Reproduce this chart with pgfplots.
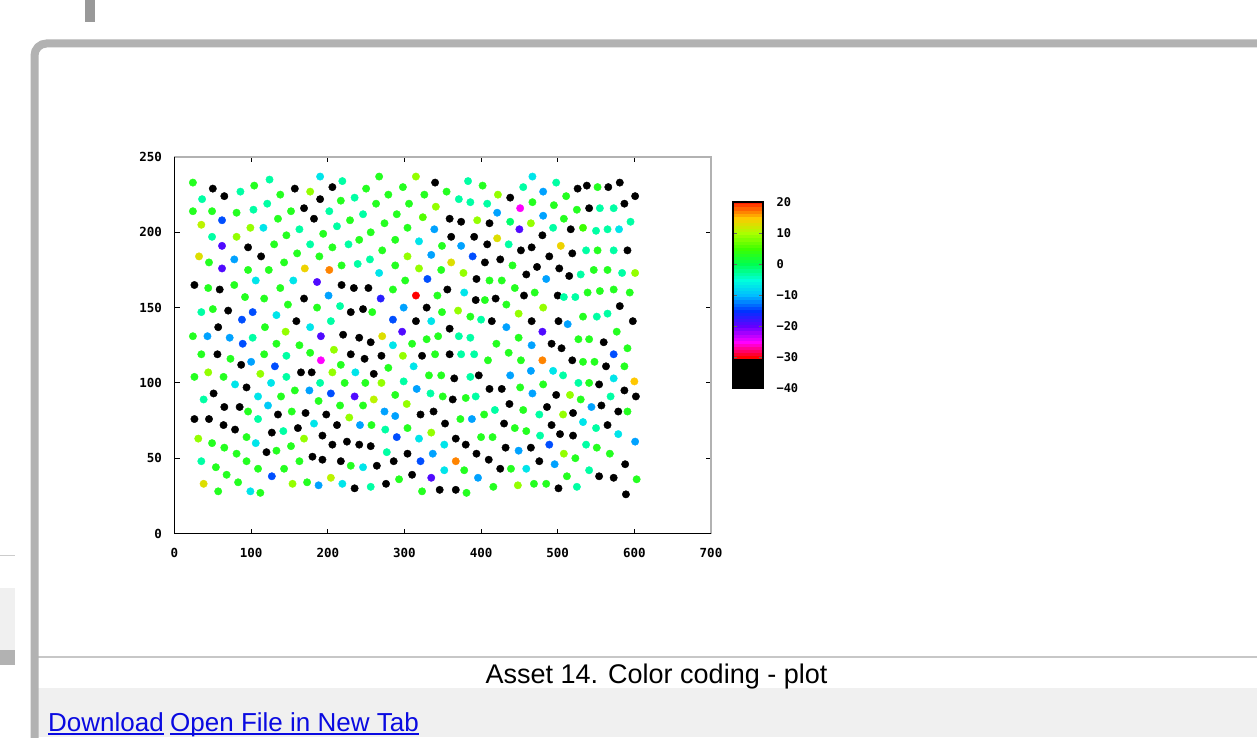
\documentclass[border=0pt]{standalone}
\usepackage{pgfplots}
\pgfplotsset{compat=1.18}
\usepackage{pgfplotstable}
\usepackage{fontspec}
\setmainfont{Liberation Sans}
\newfontfamily\tickfont{DejaVu Sans Mono}
\definecolor{framegray}{RGB}{178,178,178}
\definecolor{linkblue}{RGB}{10,10,225}
\pgfplotsset{colormap={gp}{rgb255(0pt)=(0,0,0) rgb255(19pt)=(0,0,0) rgb255(20pt)=(255,0,0) rgb255(30pt)=(255,0,255) rgb255(40pt)=(100,0,255) rgb255(50pt)=(0,50,255) rgb255(60pt)=(0,190,255) rgb255(70pt)=(0,255,220) rgb255(80pt)=(0,255,80) rgb255(90pt)=(60,255,0) rgb255(100pt)=(170,255,0) rgb255(110pt)=(255,200,0) rgb255(120pt)=(255,30,0)}}
\pgfplotstableread[row sep=\\]{x y c\\
0 -40 -40\\ 1 -40 -40\\ 0 -39 -39\\ 1 -39 -39\\ 0 -38 -38\\ 1 -38 -38\\ 0 -37 -37\\ 1 -37 -37\\ 0 -36 -36\\ 1 -36 -36\\
0 -35 -35\\ 1 -35 -35\\ 0 -34 -34\\ 1 -34 -34\\ 0 -33 -33\\ 1 -33 -33\\ 0 -32 -32\\ 1 -32 -32\\ 0 -31 -31\\ 1 -31 -31\\
0 -30 -30\\ 1 -30 -30\\ 0 -29 -29\\ 1 -29 -29\\ 0 -28 -28\\ 1 -28 -28\\ 0 -27 -27\\ 1 -27 -27\\ 0 -26 -26\\ 1 -26 -26\\
0 -25 -25\\ 1 -25 -25\\ 0 -24 -24\\ 1 -24 -24\\ 0 -23 -23\\ 1 -23 -23\\ 0 -22 -22\\ 1 -22 -22\\ 0 -21 -21\\ 1 -21 -21\\
0 -20 -20\\ 1 -20 -20\\ 0 -19 -19\\ 1 -19 -19\\ 0 -18 -18\\ 1 -18 -18\\ 0 -17 -17\\ 1 -17 -17\\ 0 -16 -16\\ 1 -16 -16\\
0 -15 -15\\ 1 -15 -15\\ 0 -14 -14\\ 1 -14 -14\\ 0 -13 -13\\ 1 -13 -13\\ 0 -12 -12\\ 1 -12 -12\\ 0 -11 -11\\ 1 -11 -11\\
0 -10 -10\\ 1 -10 -10\\ 0 -9 -9\\ 1 -9 -9\\ 0 -8 -8\\ 1 -8 -8\\ 0 -7 -7\\ 1 -7 -7\\ 0 -6 -6\\ 1 -6 -6\\
0 -5 -5\\ 1 -5 -5\\ 0 -4 -4\\ 1 -4 -4\\ 0 -3 -3\\ 1 -3 -3\\ 0 -2 -2\\ 1 -2 -2\\ 0 -1 -1\\ 1 -1 -1\\
0 0 0\\ 1 0 0\\ 0 1 1\\ 1 1 1\\ 0 2 2\\ 1 2 2\\ 0 3 3\\ 1 3 3\\ 0 4 4\\ 1 4 4\\
0 5 5\\ 1 5 5\\ 0 6 6\\ 1 6 6\\ 0 7 7\\ 1 7 7\\ 0 8 8\\ 1 8 8\\ 0 9 9\\ 1 9 9\\
0 10 10\\ 1 10 10\\ 0 11 11\\ 1 11 11\\ 0 12 12\\ 1 12 12\\ 0 13 13\\ 1 13 13\\ 0 14 14\\ 1 14 14\\
0 15 15\\ 1 15 15\\ 0 16 16\\ 1 16 16\\ 0 17 17\\ 1 17 17\\ 0 18 18\\ 1 18 18\\ 0 19 19\\ 1 19 19\\
0 20 20\\ 1 20 20\\
}\cbtable
\pgfplotstableread{
x y c
24 233 3
50 229 -35
65 224 -35
36 222 -3
86 227 -3
104 231 3
124 235 -3
138 225 3
157 229 -35
177 227 9
190 237 -7
206 230 -35
219 234 -3
190 222 -35
217 221 3
24 214 3
49 214 3
81 213 3
103 215 -3
121 219 -3
152 214 3
169 216 -35
182 209 -35
202 214 -3
62 208 -14
35 205 11
99 203 9
116 203 -7
135 209 3
163 202 -3
146 198 3
194 199 3
212 204 -3
49 197 -3
81 197 9
62 191 -19
96 190 -35
113 184 -35
130 192 3
160 186 3
177 192 -3
206 190 3
32 184 13
45 180 3
78 182 -11
62 176 -19
96 175 3
123 175 3
143 180 3
170 176 14
202 175 17
189 184 3
218 178 3
267 237 3
315 237 9
340 233 -35
383 234 -3
402 231 3
250 229 3
235 223 -3
279 225 3
298 230 3
326 225 3
355 227 3
371 222 -3
386 220 -3
408 219 -3
263 219 3
306 219 3
341 217 9
246 212 -3
229 208 3
274 206 3
290 212 3
324 210 6
359 209 -35
374 207 -35
395 208 9
411 206 -35
339 202 -11
304 203 3
256 200 3
241 195 3
227 192 -3
288 195 3
319 194 -7
349 191 3
361 197 -35
374 191 -11
391 197 -35
408 192 -35
271 188 3
304 184 9
335 185 -11
361 180 13
389 184 -14
405 180 -35
255 182 -3
239 179 -3
288 178 3
319 176 9
348 175 3
377 173 9
267 173 -7
467 237 -7
498 233 -3
455 230 -3
481 227 -11
511 224 3
526 229 -35
538 231 -35
552 230 3
566 230 -35
581 233 -35
601 224 -35
422 225 9
438 223 -35
467 220 3
451 216 -25
421 213 -11
481 211 -11
495 218 3
525 215 3
541 216 -35
555 216 -3
573 216 -3
587 219 -35
438 207 -1
465 206 9
450 202 -19
508 209 3
494 203 -3
517 202 -35
533 203 5
550 201 -3
565 202 -3
580 202 -7
595 207 -3
480 198 -35
421 196 13
436 192 -3
452 188 -35
466 190 -35
504 191 14
489 184 -35
519 186 -35
537 188 -3
552 188 3
573 188 -3
591 188 -35
425 182 -35
441 178 3
473 177 -35
459 172 -35
502 176 -35
515 171 -35
530 172 -3
547 175 3
565 175 3
584 173 -3
601 173 9
26 165 -35
44 163 3
59 162 -35
78 165 3
106 168 -7
138 163 3
155 168 -7
186 167 -19
92 157 3
117 156 3
169 156 -35
201 158 -11
35 147 -3
50 149 3
70 148 -35
88 142 -14
102 147 -14
133 145 -7
148 152 3
186 150 3
159 141 -35
204 141 -3
57 137 -35
24 131 3
43 131 -11
72 130 -11
102 130 -3
118 137 3
145 134 9
177 137 -7
191 131 -19
89 126 -14
133 126 3
163 125 3
208 122 9
35 119 3
56 119 -35
73 116 3
117 119 3
146 118 -3
177 120 3
87 112 -35
100 114 -11
131 111 -14
191 115 -25
26 104 3
44 107 9
64 104 3
112 106 9
146 104 -3
165 107 -35
179 107 -35
206 107 9
79 99 -7
126 100 -7
190 100 -3
218 165 -35
234 163 -35
253 163 -35
301 168 3
330 169 -14
394 169 -35
411 168 3
285 162 3
269 156 -17
315 158 -30
343 158 3
356 162 -35
378 160 -7
393 155 -35
405 155 3
216 151 -3
230 147 -35
246 149 -35
258 147 3
299 150 -11
329 150 -35
349 147 3
370 148 9
386 144 3
400 142 -3
414 141 -35
285 142 -14
315 141 -35
335 141 -7
220 132 -35
241 130 -35
256 127 -35
271 131 13
297 134 -19
285 125 -7
310 126 3
329 129 3
344 131 3
359 136 -35
371 131 -3
386 130 -3
230 119 -35
248 116 -35
270 118 -35
298 118 9
323 118 -35
340 119 3
359 119 -35
374 119 -3
391 119 -3
409 115 3
217 112 3
260 106 -35
279 110 3
312 111 -7
332 105 3
348 105 3
365 103 -35
386 104 -3
397 105 -35
236 107 -7
222 100 3
249 100 3
270 100 9
299 101 -3
427 168 3
485 169 -11
444 163 3
470 160 3
500 158 -35
508 157 -3
523 157 -3
539 160 3
555 161 3
573 162 3
594 160 3
419 156 -35
456 158 -35
433 152 3
481 150 9
449 146 9
581 151 -35
533 144 3
551 144 -3
565 146 -3
466 141 -35
501 141 -35
513 139 -11
598 141 -35
433 137 -11
480 134 -19
449 130 3
577 134 3
420 126 3
466 125 -11
492 126 -35
505 123 -35
527 129 3
541 129 3
560 127 -35
591 123 3
436 120 3
573 119 -14
480 115 17
452 115 3
519 115 -35
533 114 3
548 114 3
563 111 -35
587 111 3
438 105 -11
465 108 -11
494 108 -7
507 105 -3
527 100 -3
541 100 3
554 99 -35
573 103 -7
600 101 15
481 99 3
94 97 -35
51 93 -35
38 89 -3
109 91 -7
139 91 3
157 95 3
176 95 -11
204 93 -14
65 84 -35
85 84 -35
96 81 3
122 85 -9
135 79 -35
153 81 3
171 80 -35
188 88 3
198 79 -35
26 76 -35
45 76 -35
64 72 -35
79 69 -35
109 76 -3
142 68 -3
127 67 -35
161 70 -35
182 73 -7
212 72 -35
31 63 9
49 60 3
65 57 3
81 53 3
94 64 3
106 60 -7
120 54 -35
133 55 3
152 58 3
169 63 9
193 65 -35
206 59 -35
35 48 -3
54 44 3
68 39 3
94 48 3
109 43 3
143 43 3
163 48 3
180 51 -35
193 49 -35
127 38 -14
83 34 3
38 33 13
57 28 3
99 28 -7
112 27 3
154 33 9
173 34 3
188 32 -11
204 37 11
235 91 -19
260 89 11
288 92 3
303 86 9
316 96 -11
334 93 -3
350 91 3
363 89 -35
380 90 3
393 91 -3
411 96 -35
216 85 3
246 85 3
274 81 -11
288 78 -11
321 79 -35
338 81 -35
228 77 9
242 72 -11
257 72 3
275 69 -3
304 70 3
335 67 9
290 64 -14
319 63 -7
353 73 -35
373 76 3
388 76 -11
404 79 3
225 61 -35
241 59 -35
256 58 -35
277 54 -3
304 53 -35
337 53 -11
352 59 -7
367 63 -35
380 59 -35
400 64 3
415 64 3
394 53 -35
410 49 -35
217 48 -35
230 45 3
246 44 -7
264 45 -35
286 48 -35
321 48 -14
367 48 17
219 33 -7
235 30 -35
256 31 -3
276 33 -35
293 36 3
310 39 -35
335 37 -19
352 42 -7
378 42 3
396 37 -11
416 31 3
323 28 3
346 29 -35
367 29 -35
381 27 3
427 96 -35
451 97 3
467 93 -11
498 92 -35
516 92 9
530 89 3
587 95 -35
602 91 -35
569 91 -3
418 82 -3
437 86 -35
455 82 3
476 79 -3
486 84 -35
507 79 9
520 80 -35
544 84 -11
557 85 -35
579 81 -35
591 81 3
430 73 -35
444 70 3
459 68 3
477 65 -3
492 72 -35
503 66 -35
520 65 -35
533 74 -7
550 70 -3
565 72 -35
579 66 -7
601 61 -11
432 57 -35
449 55 -11
465 57 -35
489 59 -14
537 59 -3
551 57 3
568 53 3
508 53 9
523 50 3
476 48 -35
496 46 -11
425 43 -35
439 43 3
459 43 -7
588 46 -35
541 42 -3
512 38 3
554 38 -35
573 37 -35
603 36 3
448 32 9
469 33 3
485 33 3
501 30 -35
525 31 -3
589 26 -35
}\datatable
\begin{document}
\begin{tikzpicture}
\path[use as bounding box] (0,0) rectangle (1257pt,737pt);
\clip (0,0) rectangle (1257pt,737pt);
\fill[white] (0,0) rectangle (1257pt,737pt);
% page chrome
\fill[black!40] (85pt,715pt) rectangle (95pt,737pt);
\draw[black!20, line width=1pt] (0,182pt) -- (15pt,182pt);
\fill[black!6] (0,87pt) rectangle (15pt,149pt);
\fill[black!30] (0,72pt) rectangle (15pt,87pt);
\fill[black!6] (38pt,0) rectangle (1257pt,49pt);
\draw[black!22, line width=1.5pt] (38pt,80pt) -- (1257pt,80pt);
\draw[framegray, line width=8pt, rounded corners=12pt] (34.5pt,-20pt) -- (34.5pt,693.5pt) -- (1300pt,693.5pt);
\node[anchor=base, font=\fontsize{27}{30}\selectfont, inner sep=0pt] at (656.5pt,54pt) {Asset 14. Color coding - plot};
\node[anchor=base west, text=linkblue, font=\fontsize{26}{30}\selectfont, inner sep=0pt] (dl) at (48pt,6pt) {Download};
\draw[linkblue, line width=1.4pt] ([yshift=-3pt]dl.base west) -- ([yshift=-3pt]dl.base east);
\node[anchor=base west, text=linkblue, font=\fontsize{26}{30}\selectfont, inner sep=0pt] (of) at (170pt,6pt) {Open File in New Tab};
\draw[linkblue, line width=1.4pt] ([yshift=-3pt]of.base west) -- ([yshift=-3pt]of.base east);
\begin{axis}[
  at={(174.5pt,203.5pt)}, anchor=south west,
  scale only axis, width=536.5pt, height=376.5pt,
  xmin=0, xmax=700, ymin=0, ymax=250,
  xtick={0,100,200,300,400,500,600,700},
  xticklabels={0,100,200,300,400,500,600,700},
  ytick={0,50,100,150,200,250},
  yticklabels={0,50,100,150,200,250},
  tick align=inside, major tick length=5pt, tick pos=both,
  tick style={black, line width=0.8pt},
  axis line style={black!30, line width=1.2pt},
  ticklabel style={font={\tickfont\bfseries\fontsize{12.5pt}{12.5pt}\selectfont}, text=black},
  xticklabel style={yshift=-11pt},
  yticklabel style={xshift=-9pt},
  clip=false,
  colormap name=gp,
  point meta min=-40, point meta max=20,
]
\addplot[scatter, only marks, mark=*, mark size=3.7pt, scatter src=explicit,
  scatter/use mapped color={draw=mapped color, fill=mapped color}]
  table[x=x, y=y, meta=c] {\datatable};
\draw[black, line width=1.6pt] (rel axis cs:0,1) -- (rel axis cs:0,0) -- (rel axis cs:1,0);
\end{axis}
% colour bar
\begin{axis}[
  at={(733pt,349pt)}, anchor=south west,
  scale only axis, width=30pt, height=186pt,
  xmin=-0.5, xmax=1.5, ymin=-40, ymax=20,
  xtick=\empty,
  ytick={-40,-30,-20,-10,0,10,20},
  yticklabels={−40,−30,−20,−10,0,10,20},
  ytick pos=both, yticklabel pos=right,
  tick align=inside, major tick length=4pt,
  tick style={black!60, line width=0.8pt},
  axis line style={black, line width=1.3pt},
  axis on top,
  yticklabel style={font={\tickfont\bfseries\fontsize{12pt}{12pt}\selectfont}, text=black, xshift=10pt},
  colormap name=gp,
  point meta min=-40, point meta max=20,
]
\addplot[matrix plot*, mesh/cols=2, point meta=explicit] table[x=x, y=y, meta=c] {\cbtable};
\end{axis}
\end{tikzpicture}
\end{document}
